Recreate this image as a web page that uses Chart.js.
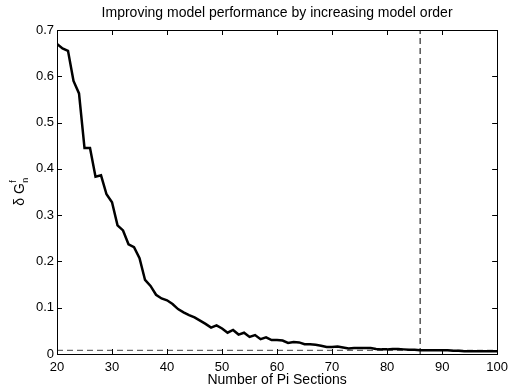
<!DOCTYPE html>
<html>
<head>
<meta charset="utf-8">
<script src="https://cdn.jsdelivr.net/npm/chart.js@4.4.1/dist/chart.umd.min.js"></script>
<style>
  html, body { margin: 0; padding: 0; background: #fff; }
  #wrap { width: 514px; height: 389px; position: relative; }
</style>
</head>
<body>
<div id="wrap"><canvas id="chartPi"></canvas></div>
<script>
// ── data ──
const sections = [
  20, 21, 22, 23, 24, 25, 26, 27, 28, 29,
  30, 31, 32, 33, 34, 35, 36, 37, 38, 39,
  40, 41, 42, 43, 44, 45, 46, 47, 48, 49,
  50, 51, 52, 53, 54, 55, 56, 57, 58, 59,
  60, 61, 62, 63, 64, 65, 66, 67, 68, 69,
  70, 71, 72, 73, 74, 75, 76, 77, 78, 79,
  80, 81, 82, 83, 84, 85, 86, 87, 88, 89,
  90, 91, 92, 93, 94, 95, 96, 97, 98, 99, 100
];
const deltaG = [
  0.670, 0.660, 0.655, 0.590, 0.563, 0.445, 0.445, 0.383, 0.386, 0.345,
  0.328, 0.278, 0.267, 0.237, 0.231, 0.207, 0.160, 0.147, 0.128, 0.120,
  0.116, 0.108, 0.097, 0.090, 0.084, 0.079, 0.072, 0.065, 0.057, 0.062,
  0.055, 0.046, 0.052, 0.042, 0.046, 0.037, 0.041, 0.032, 0.036, 0.030,
  0.030, 0.029, 0.024, 0.026, 0.025, 0.021, 0.021, 0.020, 0.018, 0.015,
  0.015, 0.016, 0.014, 0.012, 0.013, 0.013, 0.013, 0.013, 0.011, 0.010,
  0.010, 0.011, 0.011, 0.010, 0.009, 0.009, 0.008, 0.008, 0.008, 0.008,
  0.008, 0.008, 0.007, 0.007, 0.006, 0.006, 0.006, 0.006, 0.006, 0.006, 0.006
];
const threshold = 0.008;     // horizontal dashed line
const chosenOrder = 86;      // vertical dashed line
const xTicks = [20, 30, 40, 50, 60, 70, 80, 90, 100];
const yTicks = [0, 0.1, 0.2, 0.3, 0.4, 0.5, 0.6, 0.7];

const FONT = "'Liberation Sans', Arial, Helvetica, sans-serif";

// MATLAB-ish box with inward ticks + titles
const boxPlugin = {
  id: 'matlabBox',
  afterDraw(chart) {
    const { ctx, chartArea: a, scales: { x, y } } = chart;
    ctx.save();
    ctx.strokeStyle = '#000';
    ctx.lineWidth = 1;
    ctx.beginPath();
    xTicks.forEach(v => {
      const px = Math.round(x.getPixelForValue(v)) + 0.5;
      ctx.moveTo(px, a.bottom); ctx.lineTo(px, a.bottom - 5);
      ctx.moveTo(px, a.top);    ctx.lineTo(px, a.top + 5);
    });
    yTicks.forEach(v => {
      const py = Math.round(y.getPixelForValue(v)) + 0.5;
      ctx.moveTo(a.left, py);  ctx.lineTo(a.left + 5, py);
      ctx.moveTo(a.right, py); ctx.lineTo(a.right - 5, py);
    });
    ctx.stroke();
    ctx.strokeRect(Math.round(a.left) + 0.5, Math.round(a.top) + 0.5,
                   Math.round(a.right - a.left), Math.round(a.bottom - a.top));

    ctx.fillStyle = '#000';
    ctx.textAlign = 'center';
    ctx.textBaseline = 'middle';
    ctx.font = '14px ' + FONT;
    const cx = (a.left + a.right) / 2;
    ctx.fillText('Improving model performance by increasing model order', cx, 13);
    ctx.fillText('Number of Pi Sections', cx, 380);

    // y title: δ G with subscript n, superscript f
    ctx.translate(19, (a.top + a.bottom) / 2);
    ctx.rotate(-Math.PI / 2);
    ctx.textAlign = 'left';
    ctx.textBaseline = 'alphabetic';
    const main = 'δ G';
    const w = ctx.measureText(main).width;
    const start = -(w + 5) / 2;
    ctx.fillText(main, start, 5);
    ctx.font = '9px ' + FONT;
    ctx.fillText('n', start + w + 0.5, 9);
    ctx.fillText('f', start + w + 0.5, -3);
    ctx.restore();
  }
};

new Chart(document.getElementById('chartPi'), {
  type: 'line',
  data: {
    datasets: [
      {
        label: 'deltaG',
        data: sections.map((s, i) => ({ x: s, y: deltaG[i] })),
        borderColor: '#000',
        borderWidth: 2.5,
        pointRadius: 0,
        tension: 0,
        fill: false,
      },
      {
        label: 'threshold',
        data: [{ x: sections[0], y: threshold }, { x: sections[sections.length - 1], y: threshold }],
        borderColor: '#444',
        borderWidth: 1,
        borderDash: [6, 4],
        pointRadius: 0,
      },
      {
        label: 'order',
        data: [{ x: chosenOrder, y: yTicks[0] }, { x: chosenOrder, y: yTicks[yTicks.length - 1] }],
        borderColor: '#000',
        borderWidth: 1,
        borderDash: [6, 4],
        pointRadius: 0,
      },
    ],
  },
  options: {
    responsive: true,
    maintainAspectRatio: false,
    animation: false,
    layout: { padding: { left: 0, right: 11, top: 30, bottom: 0 } },
    plugins: { legend: { display: false }, title: { display: false }, tooltip: { enabled: false } },
    scales: {
      x: {
        type: 'linear',
        min: 20, max: 100,
        afterBuildTicks: s => { s.ticks = xTicks.map(v => ({ value: v })); },
        afterFit: s => { s.height = 35; },
        grid: { display: false, drawTicks: false },
        border: { display: false },
        ticks: { color: '#000', padding: 6, font: { family: FONT, size: 13 }, maxRotation: 0 },
      },
      y: {
        min: 0, max: 0.7,
        afterBuildTicks: s => { s.ticks = yTicks.map(v => ({ value: v })); },
        afterFit: s => { s.width = 57; },
        grid: { display: false, drawTicks: false },
        border: { display: false },
        ticks: { color: '#000', padding: 3, font: { family: FONT, size: 13 }, callback: v => String(+v.toFixed(1)) },
      },
    },
  },
  plugins: [boxPlugin],
});
</script>
</body>
</html>
